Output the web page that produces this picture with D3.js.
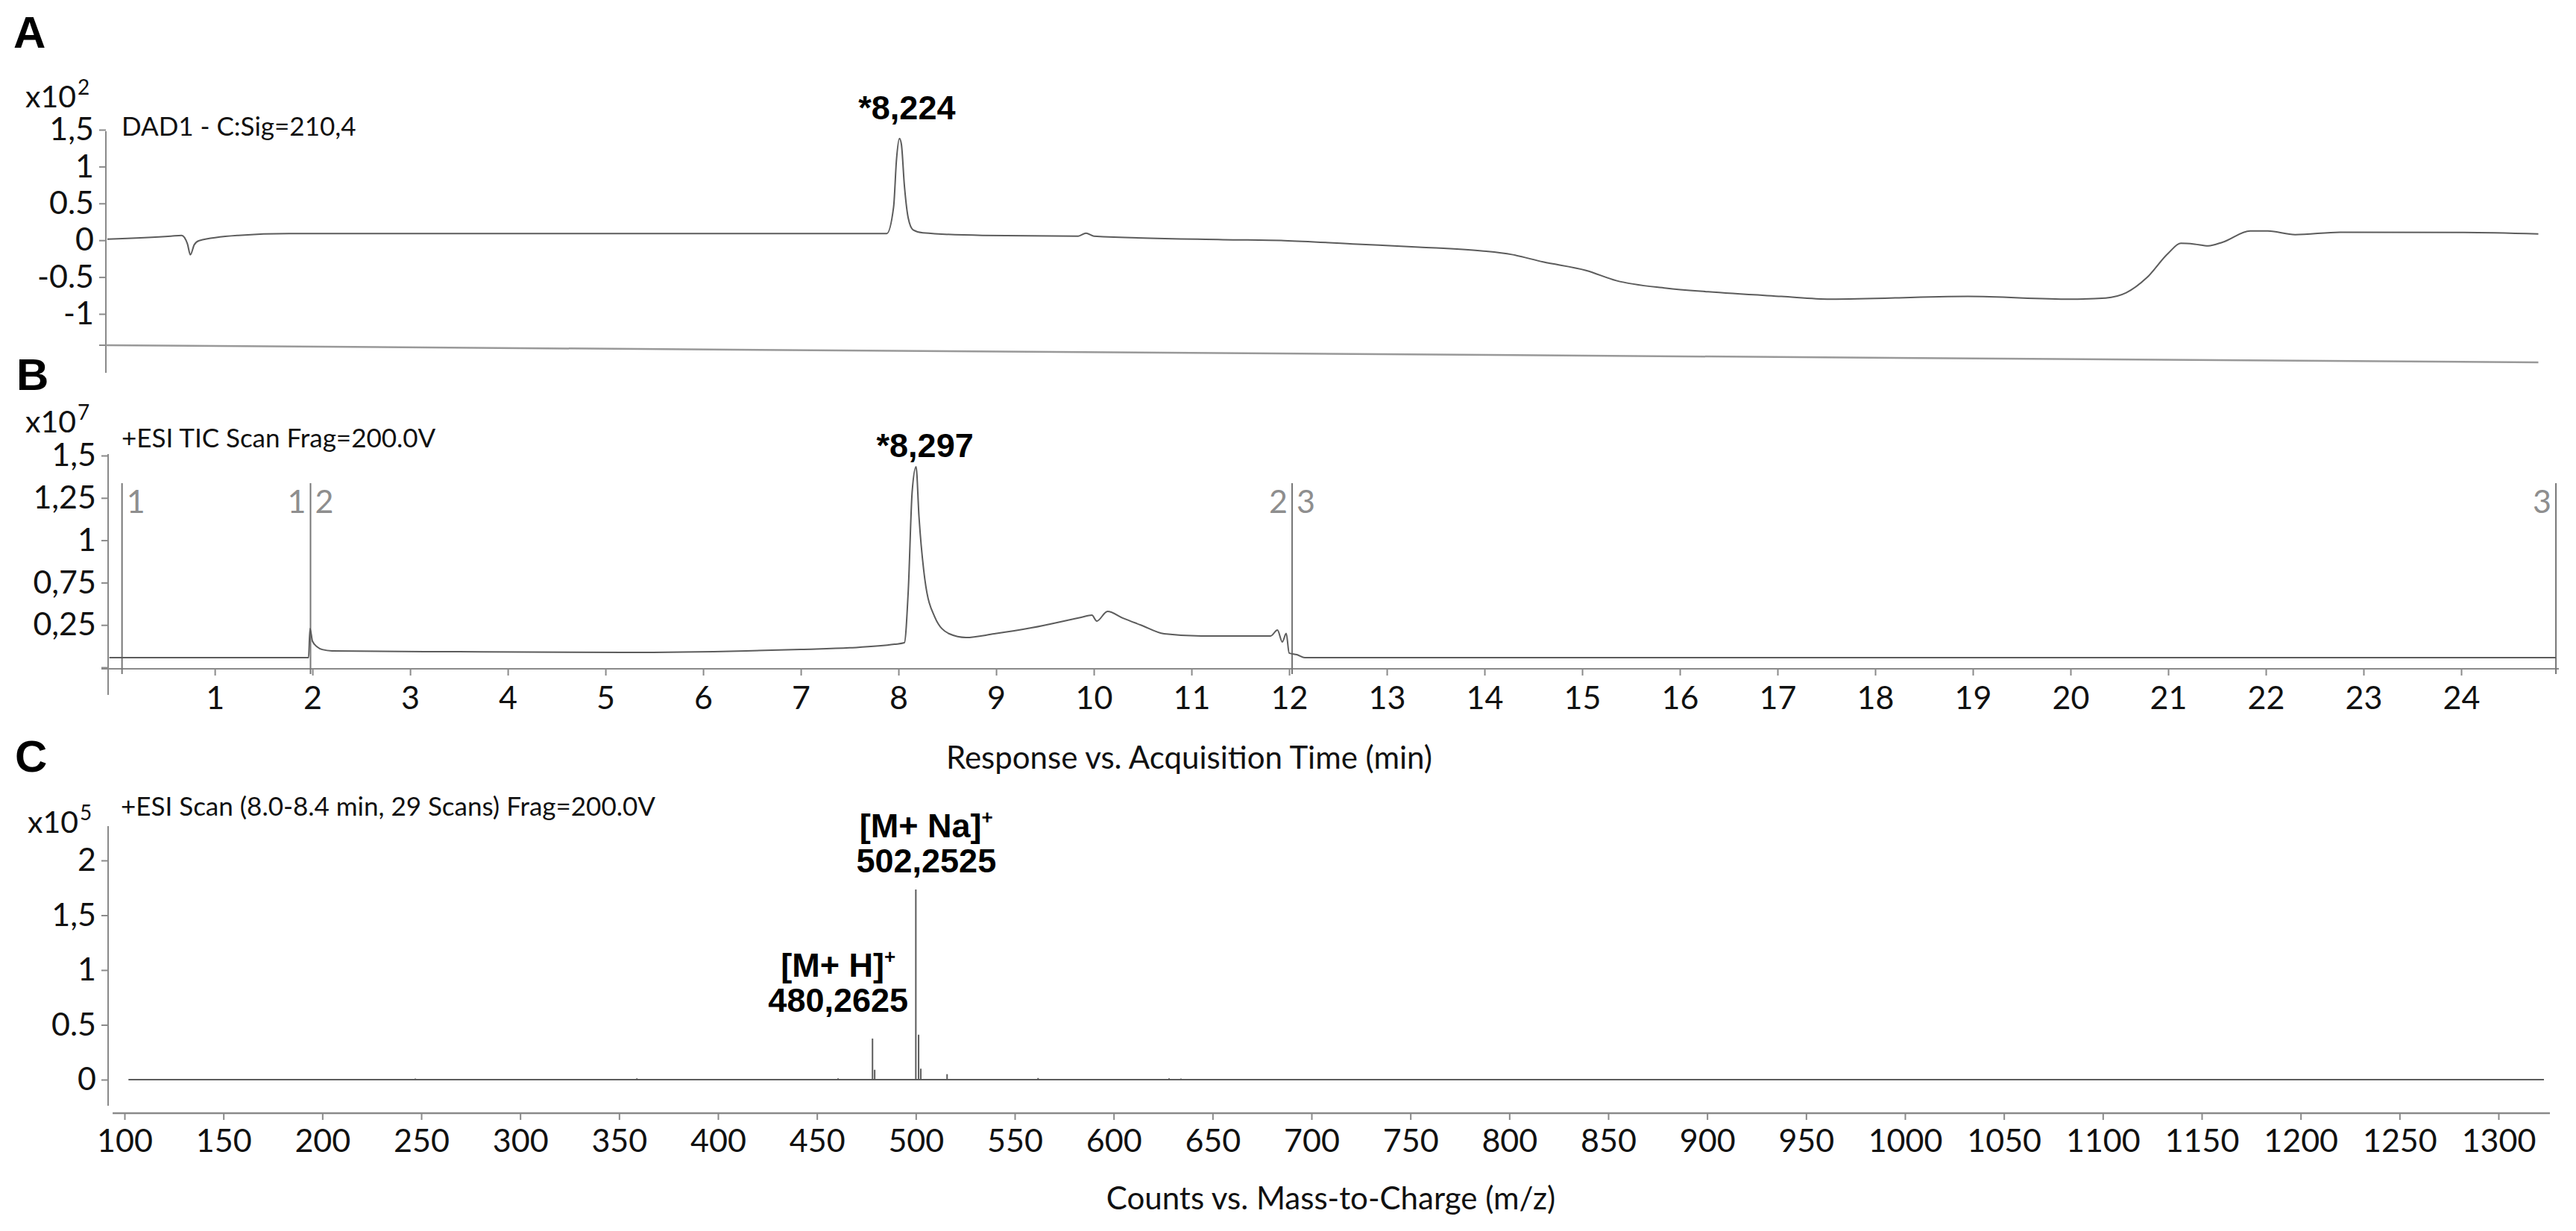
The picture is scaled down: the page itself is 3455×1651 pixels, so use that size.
<!DOCTYPE html>
<html>
<head>
<meta charset="utf-8">
<script src="https://cdn.jsdelivr.net/npm/d3@7"></script>
<style>
  html, body { margin: 0; padding: 0; background: #fff; }
  svg { display: block; }
</style>
</head>
<body>
<svg id="chart"></svg>
<script>
// ---------------- data ----------------

// A: DAD1 signal 210 nm, x10^2, vs retention time (min)
const dadTime   = [-0.1, 0.55, 0.66, 0.72, 0.75, 0.79, 0.84, 1.24, 1.76, 7.88, 7.95, 7.98, 8.01, 8.03, 8.06, 8.10, 8.15, 8.25,
                   8.86, 9.84, 9.92, 10.0, 11.32, 11.95, 12.7, 13.33, 13.97, 14.28, 14.6, 15.04, 15.35, 15.86, 16.29, 17.04,
                   17.54, 18.95, 20.0, 20.36, 20.57, 20.78, 21.0, 21.13, 21.27, 21.41, 21.56, 21.84, 22.02, 22.3, 22.76, 24.03, 24.79];
const dadSignal = [0.015, 0.056, 0.066, -0.05, -0.197, -0.06, -0.005, 0.066, 0.09, 0.09, 0.45, 1.1, 1.38, 1.3, 0.75, 0.3, 0.14, 0.1,
                   0.066, 0.056, 0.096, 0.056, 0.008, -0.005, -0.053, -0.093, -0.144, -0.194, -0.295, -0.41, -0.548, -0.65, -0.70, -0.763,
                   -0.80, -0.763, -0.80, -0.784, -0.713, -0.51, -0.177, -0.042, -0.053, -0.076, -0.025, 0.126, 0.126, 0.076, 0.109, 0.106, 0.086];
const dadTicks  = [1.5, 1, 0.5, 0, -0.5, -1];
const dadLabels = ['1,5', '1', '0.5', '0', '-0.5', '-1'];

// B: +ESI TIC, x10^7
const ticTime   = [-0.08, 1.96, 1.975, 2.0, 2.05, 2.1, 2.2, 3.5, 5.2, 6.44, 7.0, 7.5, 7.96, 8.06, 8.10, 8.14, 8.18, 8.21, 8.27, 8.37,
                   8.52, 8.69, 8.98, 9.36, 9.87, 9.98, 10.03, 10.14, 10.3, 10.48, 10.72, 11.1, 11.81, 11.88, 11.93, 11.97, 12.0, 12.08, 12.16, 24.97];
const ticSignal = [0.307, 0.307, 0.479, 0.404, 0.37, 0.355, 0.347, 0.342, 0.338, 0.347, 0.356, 0.365, 0.386, 0.395, 0.70, 1.286, 1.434, 1.139, 0.769, 0.549,
                   0.448, 0.426, 0.448, 0.483, 0.545, 0.558, 0.523, 0.58, 0.54, 0.50, 0.448, 0.435, 0.435, 0.47, 0.40, 0.45, 0.334, 0.325, 0.307, 0.307];
const ticTicks  = [1.5, 1.25, 1, 0.75, 0.5, 0.25];
const ticLabels = ['1,5', '1,25', '1', '0,75', '0,25', ''];
const timeTicks = d3.range(1, 25);

// segment markers on the TIC
const markerTime  = [0.05, 1.98, 12.03, 24.97];
const markerLeft  = ['', '1', '2', '3'];
const markerRight = ['1', '2', '3', ''];

// C: +ESI scan spectrum, x10^5
const specMz     = [247, 359, 460.7, 478.1, 479.2, 500.0, 501.4, 502.5, 515.8, 561.8, 628, 634];
const specCounts = [0.01, 0.012, 0.012, 0.375, 0.09, 1.735, 0.41, 0.1, 0.05, 0.015, 0.012, 0.01];
const specStart  = 102, specEnd = 1323;
const specTicks  = [2, 1.5, 1, 0.5, 0];
const specLabels = ['2', '1,5', '1', '0.5', '0'];
const mzTicks    = d3.range(100, 1301, 50);

// annotations
const peakA = { t: 8.01, v: 1.38, label: '*8,224' };
const peakB = { t: 8.18, v: 1.434, label: '*8,297' };
const ions  = [
  { mz: 478.1, v: 0.375, name: '[M+ H]',  value: '480,2625', dx: -46 },
  { mz: 500.0, v: 1.735, name: '[M+ Na]', value: '502,2525', dx: 14 }
];

// ---------------- setup ----------------
const W = 3455, H = 1651;
const LABEL_FONT = 'Lato, "Open Sans", sans-serif';
const BOLD_FONT = '"Liberation Sans", Arial, sans-serif';
const AXIS_COLOR = '#8a8a8a';
const TRACE_COLOR = '#5c5c5c';

const svg = d3.select('#chart').attr('width', W).attr('height', H);
svg.append('rect').attr('width', W).attr('height', H).attr('fill', '#fff');

// shared time axis (A and B)
const xTime = d3.scaleLinear().domain([-0.1, 25]).range([144, 3432]);
const yA = d3.scaleLinear().domain([-1, 1.5]).range([421, 174]);
const yB = d3.scaleLinear().domain([0.25, 1.5]).range([895, 611]);
const xMz = d3.scaleLinear().domain([100, 1300]).range([167, 3351]);
const yC = d3.scaleLinear().domain([0, 2]).range([1448, 1154]);

function styleAxis(g) {
  g.select('.domain').remove();
  g.selectAll('.tick line').attr('stroke', AXIS_COLOR).attr('stroke-width', 2);
  g.selectAll('.tick text')
    .attr('font-family', LABEL_FONT)
    .attr('font-size', 43)
    .attr('fill', '#111');
}

function vline(x, y1, y2) {
  svg.append('line').attr('x1', x).attr('x2', x).attr('y1', y1).attr('y2', y2)
    .attr('stroke', AXIS_COLOR).attr('stroke-width', 2);
}

function panelLetter(letter, x, y) {
  svg.append('text').attr('x', x).attr('y', y)
    .attr('font-family', BOLD_FONT).attr('font-weight', 'bold').attr('font-size', 60)
    .attr('fill', '#000').text(letter);
}

function exponentLabel(x, y, exp) {
  const t = svg.append('text').attr('x', x).attr('y', y)
    .attr('font-family', LABEL_FONT).attr('font-size', 41).attr('fill', '#111');
  t.append('tspan').text('x10');
  t.append('tspan').attr('font-size', 28).attr('dx', 2).attr('dy', -17).text(exp);
}

function header(x, y, txt) {
  svg.append('text').attr('x', x).attr('y', y)
    .attr('font-family', LABEL_FONT).attr('font-size', 35).attr('fill', '#111').text(txt);
}

function trace(xs, ys, xScale, yScale) {
  const pts = xs.map((d, i) => [d, ys[i]]);
  svg.append('path')
    .attr('d', d3.line().x(d => xScale(d[0])).y(d => yScale(d[1])).curve(d3.curveMonotoneX)(pts))
    .attr('fill', 'none').attr('stroke', TRACE_COLOR).attr('stroke-width', 2);
}

function boldLabel(x, y, txt, size) {
  return svg.append('text').attr('x', x).attr('y', y).attr('text-anchor', 'middle')
    .attr('font-family', BOLD_FONT).attr('font-weight', 'bold').attr('font-size', size || 45)
    .attr('fill', '#000').text(txt);
}

// ---------------- panel A ----------------
panelLetter('A', 18, 64);
exponentLabel(34, 144, '2');
header(163, 182, 'DAD1 - C:Sig=210,4');

const axA = svg.append('g').attr('transform', 'translate(142,0)')
  .call(d3.axisLeft(yA).tickValues(dadTicks).tickFormat((d, i) => dadLabels[i]).tickSize(9).tickPadding(7));
styleAxis(axA);
vline(142, 176, 500);
// bottom corner tick and the (slightly tilted) time baseline of panel A
svg.append('line').attr('x1', 133).attr('x2', 142).attr('y1', 463).attr('y2', 463)
  .attr('stroke', AXIS_COLOR).attr('stroke-width', 2);
svg.append('line').attr('x1', 142).attr('x2', xTime(24.79)).attr('y1', 463).attr('y2', 486)
  .attr('stroke', '#999').attr('stroke-width', 2.5);

trace(dadTime, dadSignal, xTime, yA);
boldLabel(xTime(peakA.t) + 10, yA(peakA.v) - 26, peakA.label);

// ---------------- panel B ----------------
panelLetter('B', 22, 523);
exponentLabel(34, 580, '7');
header(163, 600, '+ESI TIC Scan Frag=200.0V');

const axB = svg.append('g').attr('transform', 'translate(145,0)')
  .call(d3.axisLeft(yB).tickValues(ticTicks).tickFormat((d, i) => ticLabels[i]).tickSize(9).tickPadding(7));
styleAxis(axB);
vline(145, 609, 932);

const axBx = svg.append('g').attr('transform', 'translate(0,897)')
  .call(d3.axisBottom(xTime).tickValues(timeTicks).tickFormat(d3.format('d')).tickSize(9).tickPadding(14));
styleAxis(axBx);
svg.append('line').attr('x1', 136).attr('x2', xTime(25)).attr('y1', 897).attr('y2', 897)
  .attr('stroke', AXIS_COLOR).attr('stroke-width', 2);

// segment markers
markerTime.forEach((t, i) => {
  const x = xTime(t);
  svg.append('line').attr('x1', x).attr('x2', x).attr('y1', yB(1.337)).attr('y2', 904)
    .attr('stroke', '#777').attr('stroke-width', 2);
  const base = { 'font-family': LABEL_FONT, 'font-size': 43, 'fill': '#8e8e8e' };
  if (markerLeft[i]) {
    const tl = svg.append('text').attr('x', x - 6).attr('y', yB(1.337) + 40).attr('text-anchor', 'end').text(markerLeft[i]);
    Object.entries(base).forEach(([k, v]) => tl.attr(k, v));
  }
  if (markerRight[i]) {
    const tr = svg.append('text').attr('x', x + 6).attr('y', yB(1.337) + 40).text(markerRight[i]);
    Object.entries(base).forEach(([k, v]) => tr.attr(k, v));
  }
});

trace(ticTime, ticSignal, xTime, yB);
boldLabel(xTime(peakB.t) + 12, yB(peakB.v) - 13, peakB.label);

svg.append('text').attr('x', 1595).attr('y', 1031).attr('text-anchor', 'middle')
  .attr('font-family', LABEL_FONT).attr('font-size', 42).attr('fill', '#111')
  .text('Response vs. Acquisition Time (min)');

// ---------------- panel C ----------------
panelLetter('C', 20, 1035);
exponentLabel(37, 1117, '5');
header(162, 1094, '+ESI Scan (8.0-8.4 min, 29 Scans) Frag=200.0V');

const axC = svg.append('g').attr('transform', 'translate(145,0)')
  .call(d3.axisLeft(yC).tickValues(specTicks).tickFormat((d, i) => specLabels[i]).tickSize(9).tickPadding(7));
styleAxis(axC);
vline(145, 1108, 1483);

const axCx = svg.append('g').attr('transform', 'translate(0,1493)')
  .call(d3.axisBottom(xMz).tickValues(mzTicks).tickFormat(d3.format('d')).tickSize(9).tickPadding(12));
styleAxis(axCx);
svg.append('line').attr('x1', xMz(94)).attr('x2', xMz(1326)).attr('y1', 1493).attr('y2', 1493)
  .attr('stroke', AXIS_COLOR).attr('stroke-width', 2.5);

// spectrum baseline and sticks
svg.append('line').attr('x1', xMz(specStart)).attr('x2', xMz(specEnd)).attr('y1', yC(0)).attr('y2', yC(0))
  .attr('stroke', TRACE_COLOR).attr('stroke-width', 2);
svg.selectAll('.stick').data(specMz).enter().append('line')
  .attr('class', 'stick')
  .attr('x1', d => xMz(d)).attr('x2', d => xMz(d))
  .attr('y1', yC(0)).attr('y2', (d, i) => yC(specCounts[i]))
  .attr('stroke', TRACE_COLOR).attr('stroke-width', 2);

ions.forEach(ion => {
  const x = xMz(ion.mz) + ion.dx;
  const top = yC(ion.v);
  const t = boldLabel(x, top - (ion.v > 1 ? 70 : 83), '');
  t.append('tspan').text(ion.name);
  t.append('tspan').attr('font-size', 26).attr('dy', -18).text('+');
  boldLabel(x, top - (ion.v > 1 ? 23 : 36), ion.value);
});

svg.append('text').attr('x', 1785).attr('y', 1622).attr('text-anchor', 'middle')
  .attr('font-family', LABEL_FONT).attr('font-size', 42).attr('fill', '#111')
  .text('Counts vs. Mass-to-Charge (m/z)');
</script>
</body>
</html>
